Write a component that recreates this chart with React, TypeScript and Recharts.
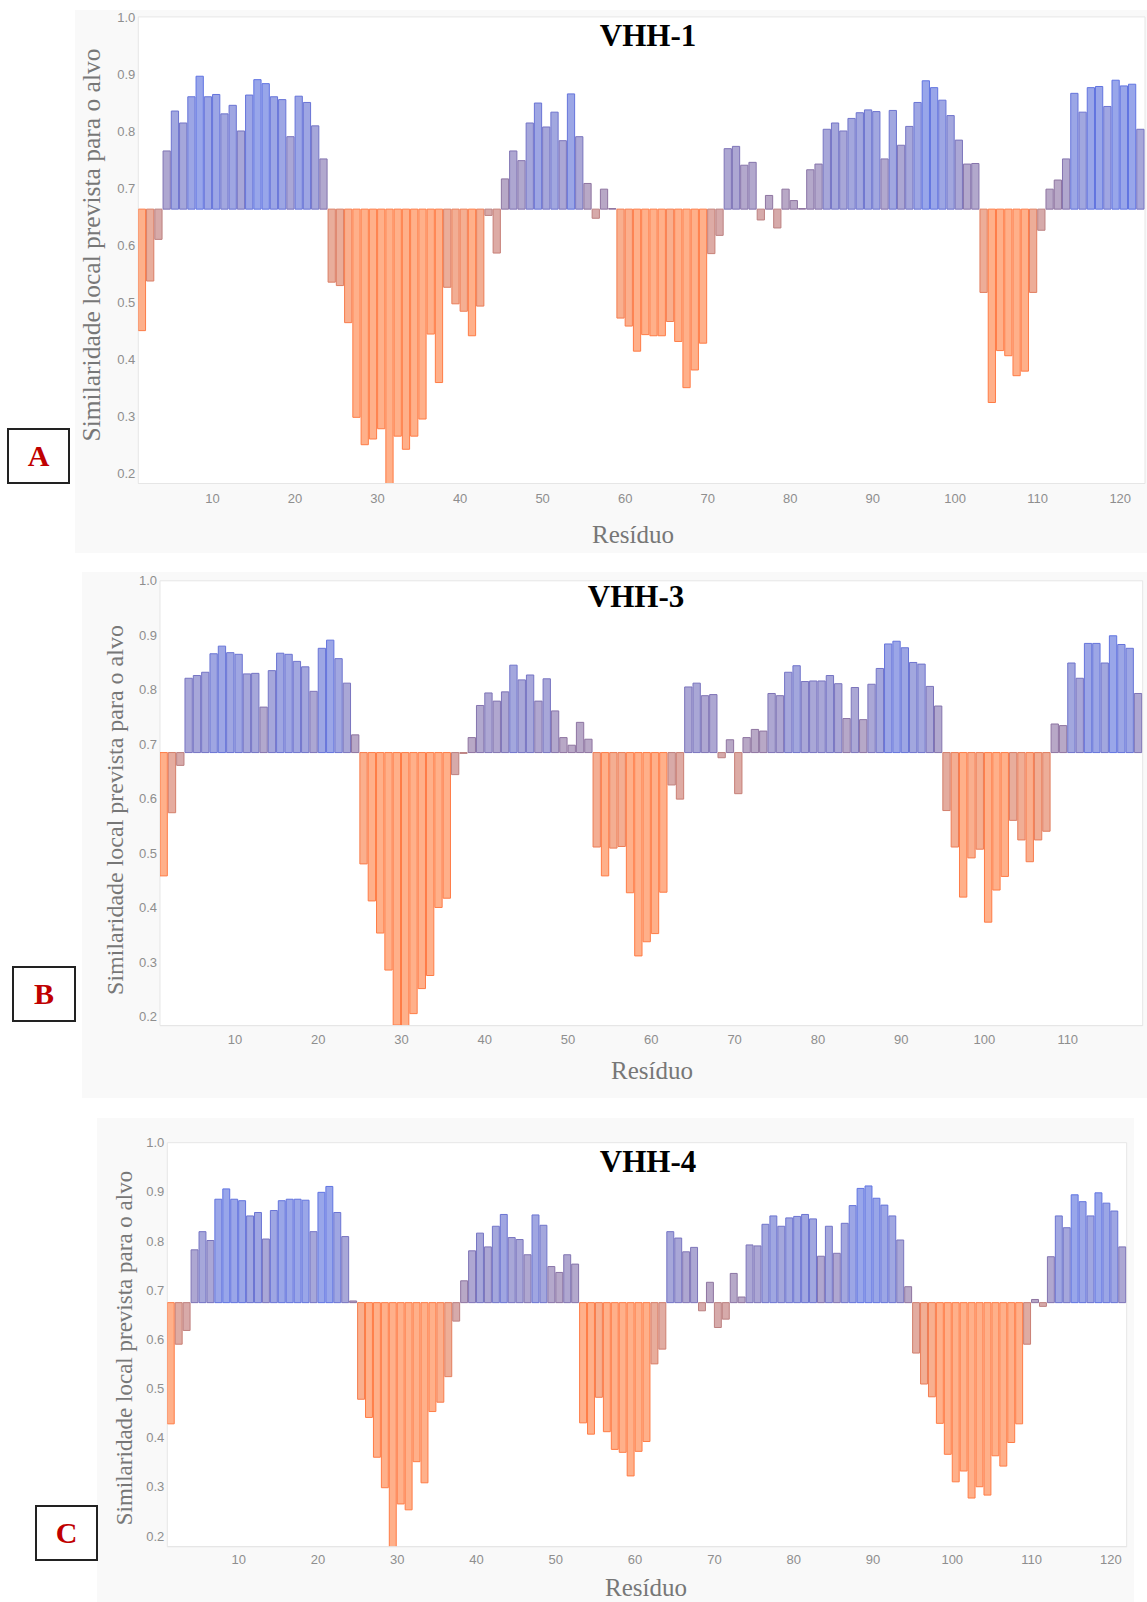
import React from 'react';
import {
  Bar,
  BarChart,
  CartesianGrid,
  Cell,
  ReferenceArea,
  XAxis,
  YAxis,
} from 'recharts';

// similarity per residue
const vhh1Values = [
  0.45, 0.537, 0.61, 0.765, 0.835, 0.814, 0.86, 0.896, 0.86, 0.864,
  0.83, 0.845, 0.8, 0.863, 0.89, 0.883, 0.86, 0.855, 0.79, 0.861,
  0.85, 0.809, 0.751, 0.535, 0.529, 0.464, 0.298, 0.25, 0.26, 0.278,
  0.18, 0.265, 0.242, 0.265, 0.295, 0.444, 0.359, 0.526, 0.497, 0.484,
  0.441, 0.493, 0.652, 0.586, 0.716, 0.765, 0.748, 0.814, 0.849, 0.807,
  0.833, 0.783, 0.865, 0.79, 0.708, 0.647, 0.698, 0.664, 0.472, 0.458,
  0.414, 0.443, 0.441, 0.441, 0.466, 0.431, 0.35, 0.381, 0.428, 0.585,
  0.617, 0.769, 0.773, 0.74, 0.745, 0.644, 0.687, 0.63, 0.698, 0.678,
  0.664, 0.732, 0.742, 0.803, 0.814, 0.8, 0.822, 0.832, 0.837, 0.834,
  0.751, 0.836, 0.775, 0.808, 0.85, 0.888, 0.876, 0.854, 0.827, 0.784,
  0.742, 0.743, 0.517, 0.324, 0.415, 0.406, 0.371, 0.379, 0.517, 0.626,
  0.698, 0.714, 0.751, 0.866, 0.833, 0.876, 0.878, 0.843, 0.889, 0.879,
  0.882, 0.803,
];

const vhh3Values = [
  0.458, 0.574, 0.661, 0.821, 0.826, 0.832, 0.866, 0.88, 0.868, 0.865,
  0.829, 0.83, 0.768, 0.835, 0.867, 0.865, 0.852, 0.842, 0.797, 0.876,
  0.891, 0.857, 0.812, 0.717, 0.48, 0.412, 0.353, 0.285, 0.184, 0.181,
  0.205, 0.251, 0.275, 0.4, 0.417, 0.644, 0.683, 0.712, 0.771, 0.794,
  0.779, 0.796, 0.845, 0.818, 0.827, 0.779, 0.82, 0.761, 0.712, 0.698,
  0.74, 0.709, 0.511, 0.458, 0.509, 0.512, 0.427, 0.311, 0.337, 0.352,
  0.428, 0.625, 0.599, 0.805, 0.812, 0.789, 0.791, 0.675, 0.708, 0.609,
  0.712, 0.727, 0.724, 0.793, 0.789, 0.832, 0.844, 0.815, 0.816, 0.816,
  0.826, 0.811, 0.747, 0.804, 0.745, 0.81, 0.839, 0.884, 0.889, 0.877,
  0.85, 0.847, 0.806, 0.77, 0.578, 0.511, 0.419, 0.491, 0.507, 0.373,
  0.432, 0.457, 0.56, 0.524, 0.484, 0.524, 0.54, 0.737, 0.734, 0.849,
  0.821, 0.885, 0.885, 0.849, 0.899, 0.883, 0.876, 0.793,
];

const vhh4Values = [
  0.428, 0.59, 0.618, 0.782, 0.819, 0.801, 0.885, 0.906, 0.885, 0.882,
  0.851, 0.858, 0.804, 0.862, 0.882, 0.885, 0.885, 0.883, 0.819, 0.899,
  0.911, 0.858, 0.809, 0.678, 0.478, 0.441, 0.36, 0.298, 0.176, 0.265,
  0.253, 0.351, 0.308, 0.453, 0.472, 0.524, 0.637, 0.719, 0.78, 0.816,
  0.788, 0.83, 0.854, 0.807, 0.803, 0.772, 0.853, 0.832, 0.748, 0.736,
  0.772, 0.753, 0.43, 0.407, 0.482, 0.412, 0.376, 0.37, 0.322, 0.372,
  0.392, 0.55, 0.58, 0.819, 0.806, 0.778, 0.787, 0.658, 0.716, 0.624,
  0.641, 0.734, 0.686, 0.792, 0.79, 0.834, 0.851, 0.83, 0.847, 0.85,
  0.854, 0.845, 0.769, 0.83, 0.775, 0.836, 0.872, 0.907, 0.912, 0.887,
  0.873, 0.851, 0.802, 0.707, 0.572, 0.509, 0.483, 0.429, 0.366, 0.31,
  0.332, 0.277, 0.3, 0.283, 0.363, 0.342, 0.39, 0.428, 0.59, 0.681,
  0.667, 0.768, 0.851, 0.827, 0.894, 0.88, 0.851, 0.898, 0.877, 0.861,
  0.788,
];

// baseline (target similarity) each panel's bars hang from
const baselines = [0.663, 0.6845, 0.6746];
const yFloors = [0.182, 0.183, 0.178];

const yTicks = [0.2, 0.3, 0.4, 0.5, 0.6, 0.7, 0.8, 0.9, 1.0];
const xTicks120 = [10, 20, 30, 40, 50, 60, 70, 80, 90, 100, 110, 120];
const xTicks110 = [10, 20, 30, 40, 50, 60, 70, 80, 90, 100, 110];

const titles = ['VHH-1', 'VHH-3', 'VHH-4'];
const letters = ['A', 'B', 'C'];
const yTitle = 'Similaridade local prevista para o alvo';
const xTitle = 'Resíduo';

const SERIF = "'Liberation Serif', 'Times New Roman', serif";
const SANS = "'Liberation Sans', Arial, sans-serif";

const POS_NEAR = { fill: [184, 168, 198], stroke: [142, 116, 160] };
const POS_FAR = { fill: [152, 166, 234], stroke: [96, 116, 226] };
const NEG_NEAR = { fill: [214, 170, 170], stroke: [188, 128, 128] };
const NEG_FAR = { fill: [255, 176, 138], stroke: [255, 124, 70] };

function mix(a: number[], b: number[], t: number) {
  return `rgb(${a.map((c, i) => Math.round(c + (b[i] - c) * t)).join(',')})`;
}

function barColors(v: number, base: number) {
  const d = v - base;
  const t = Math.min(1, Math.max(0, (Math.abs(d) - 0.05) / 0.17));
  const near = d >= 0 ? POS_NEAR : NEG_NEAR;
  const far = d >= 0 ? POS_FAR : NEG_FAR;
  return { fill: mix(near.fill, far.fill, t), stroke: mix(near.stroke, far.stroke, t) };
}

type Box = { x: number; y: number; w: number; h: number };

type PanelProps = {
  title: string;
  letter: string;
  values: number[];
  base: number;
  yMin: number;
  ticks: number[];
  box: Box;
  plot: { l: number; t: number; r: number; b: number };
  titleAt: [number, number];
  xLabelAt: [number, number];
  yLabelAt: [number, number];
  yLabelSize: number;
  letterBox: Box;
  tickGap: number;
};

const centered = (x: number, y: number, extra = ''): React.CSSProperties => ({
  position: 'absolute',
  left: x,
  top: y,
  transform: `translate(-50%, -50%) ${extra}`,
  whiteSpace: 'nowrap',
  lineHeight: 1,
});

const Panel: React.FC<PanelProps> = ({
  title, letter, values, base, yMin, ticks, box, plot,
  titleAt, xLabelAt, yLabelAt, yLabelSize, letterBox, tickGap,
}) => {
  const n = values.length;
  const barSize = (plot.r - plot.l) / n - 1;
  // bar for residue r spans [r, r+1] on the axis, so ticks sit on its left edge
  const rows = values.map((v, i) => ({
    pos: i + 1.5,
    span: [Math.min(v, base), Math.max(v, base)],
    v,
  }));

  return (
    <>
      <div
        style={{
          position: 'absolute',
          left: box.x,
          top: box.y,
          width: box.w,
          height: box.h,
          background: '#f9f9f9',
        }}
      >
        <BarChart
          width={box.w}
          height={box.h}
          data={rows}
          margin={{
            top: plot.t - box.y,
            right: box.x + box.w - plot.r,
            bottom: box.y + box.h - plot.b - 30,
            left: plot.l - box.x - 40,
          }}
        >
          <CartesianGrid fill="#fff" horizontal={false} vertical={false} />
          <XAxis
            dataKey="pos"
            type="number"
            domain={[1, n + 1]}
            allowDataOverflow
            ticks={ticks}
            interval={0}
            height={30}
            tickLine={false}
            tickSize={0}
            tickMargin={tickGap}
            axisLine={{ stroke: '#e6e6e6' }}
            tick={{ fontSize: 13, fill: '#8e8e8e', fontFamily: SANS }}
          />
          <YAxis
            type="number"
            domain={[yMin, 1]}
            allowDataOverflow
            ticks={yTicks}
            interval={0}
            width={40}
            tickFormatter={(t: number) => t.toFixed(1)}
            tickLine={false}
            tickSize={0}
            tickMargin={3}
            axisLine={false}
            tick={{ fontSize: 13, fill: '#8e8e8e', fontFamily: SANS }}
          />
          <ReferenceArea
            x1={1}
            x2={n + 1}
            y1={yMin}
            y2={1}
            fill="none"
            stroke="#e6e6e6"
            strokeWidth={1}
          />
          <Bar dataKey="span" barSize={barSize} isAnimationActive={false}>
            {rows.map((r, i) => {
              const c = barColors(r.v, base);
              return <Cell key={i} fill={c.fill} stroke={c.stroke} strokeWidth={1} />;
            })}
          </Bar>
        </BarChart>
      </div>
      <div style={{ ...centered(titleAt[0], titleAt[1]), fontFamily: SERIF, fontWeight: 'bold', fontSize: 31, color: '#000' }}>
        {title}
      </div>
      <div style={{ ...centered(xLabelAt[0], xLabelAt[1]), fontFamily: SERIF, fontSize: 25, color: '#777' }}>
        {xTitle}
      </div>
      <div style={{ ...centered(yLabelAt[0], yLabelAt[1], 'rotate(-90deg)'), fontFamily: SERIF, fontSize: yLabelSize, color: '#777' }}>
        {yTitle}
      </div>
      <div
        style={{
          position: 'absolute',
          left: letterBox.x,
          top: letterBox.y,
          width: letterBox.w - 4,
          height: letterBox.h - 4,
          border: '2px solid #222',
          background: '#fff',
          display: 'flex',
          alignItems: 'center',
          justifyContent: 'center',
          fontFamily: SERIF,
          fontWeight: 'bold',
          fontSize: 30,
          color: '#c00000',
        }}
      >
        {letter}
      </div>
    </>
  );
};

export default function App() {
  return (
    <div style={{ position: 'relative', width: 1147, height: 1602, background: '#fff', overflow: 'hidden' }}>
      <style>{'body{margin:0;}'}</style>
      <Panel
        title={titles[0]}
        letter={letters[0]}
        values={vhh1Values}
        base={baselines[0]}
        yMin={yFloors[0]}
        ticks={xTicks120}
        box={{ x: 75, y: 10, w: 1072, h: 543 }}
        plot={{ l: 138.3, t: 16.9, r: 1145, b: 483.5 }}
        titleAt={[648, 35]}
        xLabelAt={[633, 534]}
        yLabelAt={[92, 245]}
        yLabelSize={25.5}
        letterBox={{ x: 7, y: 428, w: 63, h: 56 }}
        tickGap={10}
      />
      <Panel
        title={titles[1]}
        letter={letters[1]}
        values={vhh3Values}
        base={baselines[1]}
        yMin={yFloors[1]}
        ticks={xTicks110}
        box={{ x: 82, y: 572, w: 1065, h: 526 }}
        plot={{ l: 160, t: 580.8, r: 1142.7, b: 1025.6 }}
        titleAt={[636, 596]}
        xLabelAt={[652, 1070]}
        yLabelAt={[115, 810]}
        yLabelSize={24}
        letterBox={{ x: 12, y: 966, w: 64, h: 56 }}
        tickGap={9.5}
      />
      <Panel
        title={titles[2]}
        letter={letters[2]}
        values={vhh4Values}
        base={baselines[2]}
        yMin={yFloors[2]}
        ticks={xTicks120}
        box={{ x: 97, y: 1118, w: 1037, h: 484 }}
        plot={{ l: 167.3, t: 1142.7, r: 1126.7, b: 1546.7 }}
        titleAt={[648, 1161]}
        xLabelAt={[646, 1587]}
        yLabelAt={[124, 1348]}
        yLabelSize={23}
        letterBox={{ x: 35, y: 1505, w: 63, h: 56 }}
        tickGap={8}
      />
    </div>
  );
}
